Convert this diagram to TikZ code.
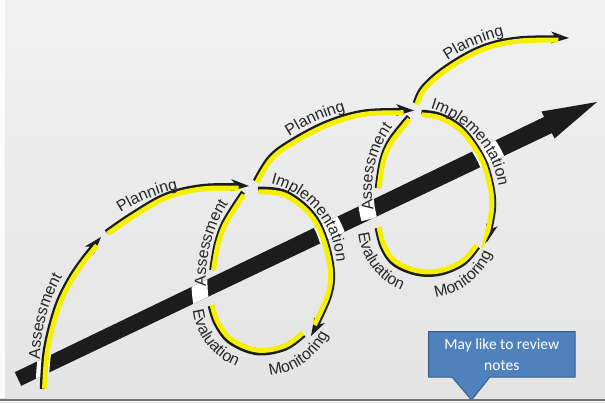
\documentclass[tikz,border=0pt]{standalone}
\usepackage{fontspec}
\setmainfont{Liberation Sans}
\newfontfamily\calloutfont{Carlito}
\usetikzlibrary{arrows.meta,decorations.text,calc}
\definecolor{paperhi}{HTML}{F1F1F1}
\definecolor{paperlo}{HTML}{E4E4E4}
\definecolor{ink}{HTML}{1C1C1C}
\definecolor{hl}{RGB}{245,240,0}
\definecolor{txt}{HTML}{262626}
\definecolor{callfill}{HTML}{4F81BD}
\definecolor{callline}{HTML}{385D8A}
\newcommand\lblfont{\fontsize{16}{16}\selectfont}
\tikzset{
  blk/.style={draw=ink, line width=4.5pt, line cap=butt},
  ylw/.style={draw=hl, line width=5pt, line cap=butt},
  casing/.style={draw=white, line width=13pt},
  band/.style={draw=white, line width=16pt},
  head/.style={-{Stealth[length=18pt,width=12pt,inset=5pt,line width=0pt]}},
}
\newcommand\strand[4]{%
  \draw[blk,#1] plot[smooth,tension=0.6] coordinates {#4};
  \draw[ylw,#2,scale around={#3}] plot[smooth,tension=0.6] coordinates {#4};}
\newcommand\cwlabel[5]{%
  \path[decorate,decoration={text along path,text align=center,text={|\lblfont\color{txt}|#5}}]
    ($(#1,-#2)+({#4+45}:#3)$) arc[start angle={#4+45},end angle={#4-45},radius=#3];}
\newcommand\ccwlabel[5]{%
  \path[decorate,decoration={text along path,text align=center,text={|\lblfont\color{txt}|#5}}]
    ($(#1,-#2)+({#4-45}:#3)$) arc[start angle={#4-45},end angle={#4+45},radius=#3];}
\begin{document}
\begin{tikzpicture}[x=1pt,y=1pt]
\useasboundingbox (0,0) rectangle (605,-402);
% paper
\shade[top color=paperhi, bottom color=paperlo] (0,0) rectangle (605,-402);
\fill[white!70!paperhi] (0,0) rectangle (5,-398);
% main bar with arrow head
\fill[ink] (14.8,-372.2) -- (544.1,-116.9) -- (541.5,-111.5) -- (597,-102)
  -- (554.5,-138.5) -- (551.9,-133.1) -- (21.2,-385.8) -- cycle;
% white gaps where curves and words cross the bar
\begin{scope}
  \clip (14.8,-372.2) -- (544.1,-116.9) -- (551.9,-133.1) -- (21.2,-385.8) -- cycle;
  \draw[casing] plot[smooth,tension=0.6] coordinates {(42,-389) (45,-350) (55,-310) (67,-283) (82,-260) (101,-237)};
  \draw[casing] plot[smooth,tension=0.6] coordinates {(258,-189) (287,-193) (316.5,-219) (331.5,-262) (330,-295) (311,-336)};
  \draw[casing] plot[smooth,tension=0.6] coordinates {(421.5,-112) (440,-115) (460,-126.5) (476.5,-146.5) (488,-170) (494,-205) (487,-242)};
  \draw[band] ($(250.6,-267.2)+(80:92.5)$) arc[start angle=80,end angle=-10,radius=92.5];
  \draw[band] ($(403.3,-201.3)+(80:102.5)$) arc[start angle=80,end angle=-10,radius=102.5];
  \draw[band] ($(348.9,-280.1)+(195:149.5)$) arc[start angle=195,end angle=150,radius=149.5];
  \draw[band] ($(477.9,-190.2)+(195:112.5)$) arc[start angle=195,end angle=150,radius=112.5];
\end{scope}
% first rising arc
\strand{head}{shorten >=13pt}{0.985:(216,-362)}{(42,-389) (45,-350) (55,-310) (67,-283) (82,-260) (101,-237)}
\strand{head}{shorten >=13pt}{0.985:(216,-362)}{(106,-232) (133,-213.5) (167,-194.5) (205,-186) (249,-186)}
% loop 1
\strand{head}{shorten >=13pt}{0.965:(271,-272)}{(258,-189) (287,-193) (316.5,-219) (331.5,-262) (330,-295) (311,-336)}
\strand{}{}{0.965:(271,-272)}{(304,-335) (285,-348.5) (257,-353) (230,-342) (216,-324) (210,-306)}
\strand{}{}{0.965:(271,-272)}{(211.5,-270) (216,-244) (224.5,-221) (243,-192)}
\strand{head}{shorten >=13pt}{0.987:(400,-306)}{(255,-181) (270,-157) (293,-140) (328,-122) (366,-111.5) (414,-110.5)}
% loop 2
\strand{head}{shorten >=13pt}{0.965:(435,-195)}{(421.5,-112) (440,-115) (460,-126.5) (476.5,-146.5) (488,-170) (494,-205) (487,-242)}
\strand{}{}{0.965:(435,-195)}{(478,-247) (463.5,-263.5) (440,-273.5) (416.5,-273.5) (393.5,-263.5) (382,-247) (377,-228)}
\strand{}{}{0.965:(435,-195)}{(377,-188) (381.5,-160) (390,-140) (408.5,-116.5)}
\strand{head}{shorten >=13pt}{0.985:(543,-205)}{(415,-103) (423,-87) (446,-67) (482,-47) (520,-38.5) (569,-38)}
% labels
\cwlabel{216}{362}{176}{165}{Assessment}
\cwlabel{216}{362}{177}{112.5}{Planning}
\cwlabel{348.9}{280.1}{143}{165}{Assessment}
\cwlabel{250.6}{267.2}{86}{40}{Implementation}
\ccwlabel{261.7}{301.6}{69.5}{218}{Evaluation}
\ccwlabel{261.7}{301.6}{74.5}{305}{Monitoring}
\cwlabel{399.9}{306.4}{203}{114.3}{Planning}
\cwlabel{477.9}{190.2}{106}{167.2}{Assessment}
\cwlabel{403.3}{201.3}{96.5}{41.3}{Implementation}
\ccwlabel{425.6}{226.6}{67.5}{217.5}{Evaluation}
\ccwlabel{425.6}{226.6}{71.5}{308}{Monitoring}
\cwlabel{543.1}{204.9}{173.5}{113.2}{Planning}
% callout
\draw[fill=callfill, draw=callline, line width=1pt] (428.5,-331.5) -- (575,-331.5) -- (575,-377)
  -- (490,-377) -- (471.5,-400) -- (452,-377) -- (428.5,-377) -- cycle;
\node[text=white, align=center, font=\calloutfont\fontsize{15.5}{21}\selectfont] (note) at (501.75,-355) {May like to review\\notes};
% bottom edge
\fill[black!55] (0,-398.5) rectangle (605,-400.5);
\fill[white] (0,-400.5) rectangle (605,-402);
\end{tikzpicture}
\end{document}
